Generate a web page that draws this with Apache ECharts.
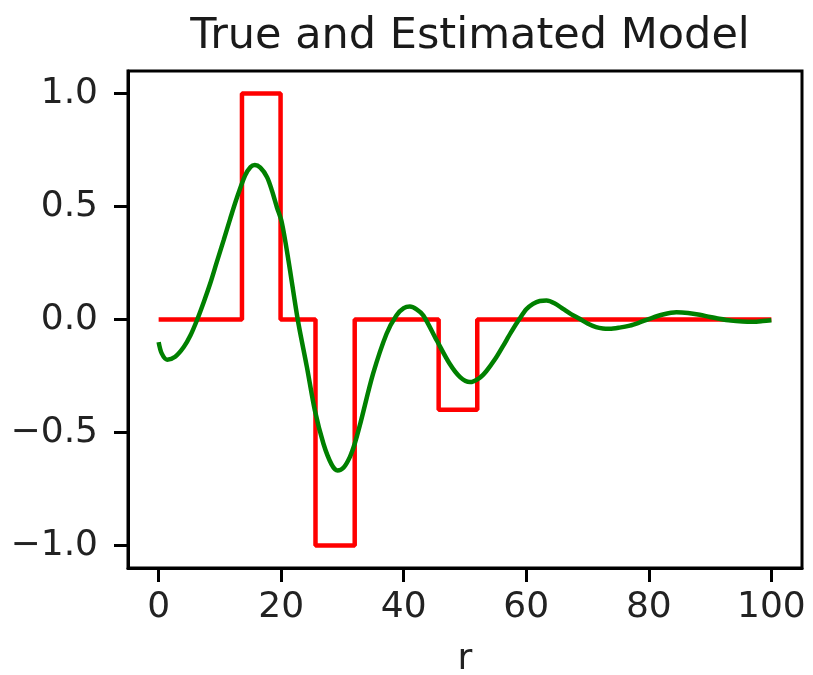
<!DOCTYPE html>
<html lang="en">
<head>
    <meta charset="UTF-8">
    <title>True and Estimated Model</title>
    <script src="https://cdn.jsdelivr.net/npm/echarts@6.0.0/dist/echarts.min.js"></script>
    <style>
        html, body{
            margin: 0;
            padding: 0;
            background: #fff;
        }
        #container{
            width: 813px;
            height: 675px;
        }
    </style>
</head>
<body>
<div id="container"></div>
<script type="text/javascript">
    // true model (piecewise constant)
    let trueR = [0, 13.6, 13.6, 19.9, 19.9, 25.6, 25.6, 32, 32, 45.7, 45.7, 52, 52, 100];
    let trueM = [0, 0, 1, 1, 0, 0, -1, -1, 0, 0, -0.4, -0.4, 0, 0];

    // estimated model
    let estR = [0, 0.5, 1.4, 2.7, 4.1, 5.2, 6.3, 7.4, 8.4, 9.5, 10.6, 11.7, 12.8, 14.1, 15.0, 15.7, 16.6, 17.7,
        18.5, 19.3, 20.1, 21.2, 22.7, 24.2, 25.5, 26.9, 28.2, 29.2, 30.2, 31.2, 32.0, 32.9, 35.0, 37.2, 38.8,
        40.0, 41.0, 42.1, 43.2, 45.4, 47.5, 49.2, 50.8, 52.4, 53.5, 55.0, 56.2, 57.5, 58.9, 60.0, 61.1, 62.2,
        63.3, 64.6, 66.0, 67.3, 68.7, 70.0, 71.4, 72.5, 73.6, 75.2, 76.9, 78.5, 80.1, 82.3, 84.5, 86.4, 88.3,
        90.0, 91.5, 93.4, 95.3, 97.0, 98.6, 100];
    let estM = [-0.10, -0.15, -0.178, -0.165, -0.122, -0.07, 0.0, 0.08, 0.158, 0.255, 0.350, 0.448, 0.541, 0.637,
        0.675, 0.684, 0.672, 0.630, 0.570, 0.497, 0.43, 0.26, 0.0, -0.211, -0.403, -0.550, -0.640, -0.668, -0.655,
        -0.609, -0.55, -0.462, -0.240, -0.063, 0.018, 0.050, 0.0575, 0.045, 0.018, -0.093, -0.196, -0.255, -0.277,
        -0.258, -0.228, -0.172, -0.118, -0.057, 0.003, 0.045, 0.069, 0.082, 0.084, 0.072, 0.047, 0.024, 0.003,
        -0.018, -0.034, -0.040, -0.041, -0.036, -0.027, -0.013, 0.003, 0.022, 0.032, 0.029, 0.021, 0.011, 0.003,
        -0.005, -0.009, -0.010, -0.007, -0.003];

    // tick labels
    let xTicks = [0, 20, 40, 60, 80, 100];
    let yTicks = [-1.0, -0.5, 0.0, 0.5, 1.0];

    let pairs = function(xs, ys){
        let out = [];
        for (let i = 0; i < xs.length; i++) {
            out.push([xs[i], ys[i]]);
        }
        return out;
    };

    let font = 'DejaVu Sans';
    let dom = document.getElementById("container");
    let myChart = echarts.init(dom, null, {renderer: 'canvas'});
    let option = {
        animation: false,
        backgroundColor: '#fff',
        title: {
            text: 'True and Estimated Model',
            left: 465,
            textAlign: 'center',
            top: 10,
            textStyle: {
                fontFamily: font,
                fontSize: 43,
                fontWeight: 'normal',
                color: '#1a1a1a'
            }
        },
        grid: {
            left: 128,
            right: 11,
            top: 71,
            bottom: 107,
            outerBoundsMode: 'none',
            show: true,
            borderColor: '#000',
            borderWidth: 3
        },
        xAxis: {
            type: 'value',
            min: -5,
            max: 105,
            name: 'r',
            nameLocation: 'middle',
            nameGap: 74,
            nameTextStyle: {
                fontFamily: font,
                fontSize: 36,
                color: '#222'
            },
            axisLine: {show: true, onZero: false, lineStyle: {color: '#000', width: 3}},
            axisTick: {show: true, length: 14, customValues: xTicks, lineStyle: {color: '#000', width: 3}},
            axisLabel: {
                customValues: xTicks,
                margin: 22,
                fontFamily: font,
                fontSize: 36,
                color: '#222'
            },
            splitLine: {show: false}
        },
        yAxis: {
            type: 'value',
            min: -1.1,
            max: 1.1,
            axisLine: {show: true, onZero: false, lineStyle: {color: '#000', width: 3}},
            axisTick: {show: true, length: 14, customValues: yTicks, lineStyle: {color: '#000', width: 3}},
            axisLabel: {
                customValues: yTicks,
                margin: 30,
                fontFamily: font,
                fontSize: 36,
                color: '#222',
                formatter: function(v){
                    return v.toFixed(1).replace('-', '\u2212');
                }
            },
            splitLine: {show: false}
        },
        series: [
            {
                name: 'true',
                type: 'line',
                data: pairs(trueR, trueM),
                showSymbol: false,
                lineStyle: {color: '#ff0000', width: 4.5},
                z: 2
            },
            {
                name: 'estimated',
                type: 'line',
                data: pairs(estR, estM),
                showSymbol: false,
                smooth: 0.3,
                lineStyle: {color: '#008000', width: 4.5},
                z: 3
            }
        ]
    };
    myChart.setOption(option);
</script>
</body>
</html>
